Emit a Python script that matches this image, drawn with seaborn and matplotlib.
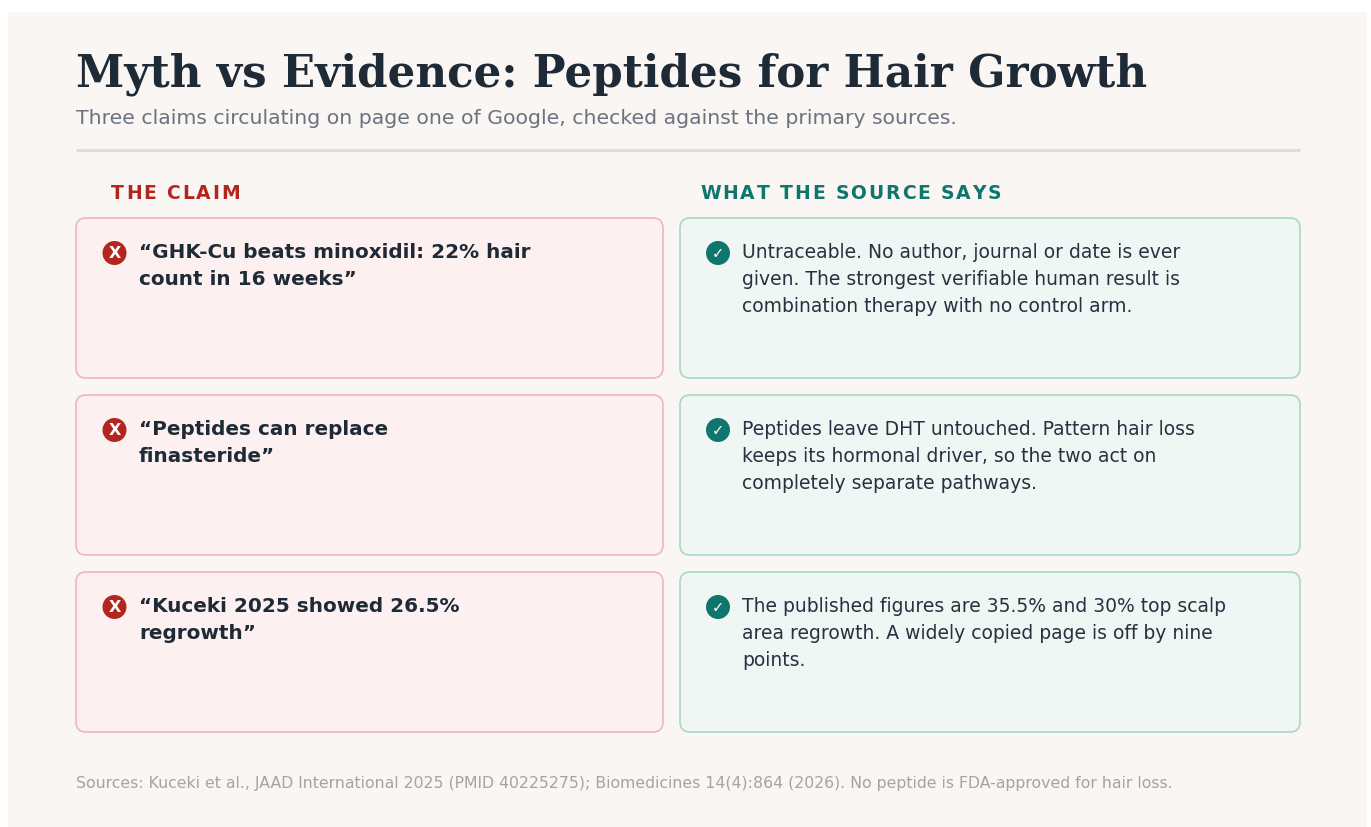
import matplotlib
matplotlib.use("Agg")
import matplotlib.pyplot as plt
from matplotlib.patches import FancyBboxPatch, Rectangle, Circle
import seaborn as sns

# ---------------- data ----------------
title = "Myth vs Evidence: Peptides for Hair Growth"
subtitle = "Three claims circulating on page one of Google, checked against the primary sources."
claim_header = "THE CLAIM"
source_header = "WHAT THE SOURCE SAYS"
claims = [
    ["\u201cGHK-Cu beats minoxidil: 22% hair", "count in 16 weeks\u201d"],
    ["\u201cPeptides can replace", "finasteride\u201d"],
    ["\u201cKuceki 2025 showed 26.5%", "regrowth\u201d"],
]
evidence = [
    ["Untraceable. No author, journal or date is ever",
     "given. The strongest verifiable human result is",
     "combination therapy with no control arm."],
    ["Peptides leave DHT untouched. Pattern hair loss",
     "keeps its hormonal driver, so the two act on",
     "completely separate pathways."],
    ["The published figures are 35.5% and 30% top scalp",
     "area regrowth. A widely copied page is off by nine",
     "points."],
]
footer = ("Sources: Kuceki et al., JAAD International 2025 (PMID 40225275); "
          "Biomedicines 14(4):864 (2026). No peptide is FDA-approved for hair loss.")

# ---------------- style ----------------
sns.set_theme(style="white")
plt.rcParams["font.family"] = ["DejaVu Sans"]

W, H = 1371, 827
DPI = 100
fig = plt.figure(figsize=(W / DPI, H / DPI), dpi=DPI, facecolor="white")
ax = fig.add_axes([0, 0, 1, 1])
ax.set_xlim(0, W)
ax.set_ylim(H, 0)
ax.axis("off")

BG = "#f9f6f3"
INK = "#1f2a37"
RED = "#b3261e"
TEAL = "#0f766e"

ax.add_patch(Rectangle((8, 12), 1359, 830, facecolor=BG, edgecolor="none", zorder=0))

ax.text(76, 87, title, fontsize=31.4, fontweight="bold", family="DejaVu Serif",
        color=INK, ha="left", va="baseline")
ax.text(76, 124, subtitle, fontsize=14.65, color="#6b7280", ha="left", va="baseline")
ax.plot([76, 1300], [149.5, 149.5], color="#e1dcd4", lw=2.2, solid_capstyle="butt")

renderer = fig.canvas.get_renderer()


def tracked(x, y, s, spacing, **kw):
    for ch in s:
        t = ax.text(x, y, ch, ha="left", va="baseline", **kw)
        if ch == " ":
            a = ax.text(0, 0, "AA", **kw)
            b = ax.text(0, 0, "A A", **kw)
            w = b.get_window_extent(renderer).width - a.get_window_extent(renderer).width
            a.remove(); b.remove()
        else:
            w = t.get_window_extent(renderer).width
        x += w + spacing


tracked(111, 199, claim_header, 1.9, fontsize=13.5, fontweight="bold", color=RED)
tracked(700, 199, source_header, 1.9, fontsize=13.5, fontweight="bold", color=TEAL)

card_tops = [218, 395, 572]
card_h = 160
left_x, left_w = 76, 587
right_x, right_w = 680, 620

for i, top in enumerate(card_tops):
    ax.add_patch(FancyBboxPatch((left_x, top), left_w, card_h,
                                boxstyle="round,pad=0,rounding_size=10",
                                facecolor="#fcf1f0", edgecolor="#ebb8b7", lw=1.2, zorder=1))
    ax.add_patch(FancyBboxPatch((right_x, top), right_w, card_h,
                                boxstyle="round,pad=0,rounding_size=10",
                                facecolor="#eff6f3", edgecolor="#acd6ca", lw=1.2, zorder=1))
    cy = top + 35
    ax.add_patch(Circle((114.5, cy), 12, facecolor=RED, edgecolor="none", zorder=2))
    ax.text(114.5, cy + 0.5, "X", fontsize=11.5, fontweight="bold", color="white",
            ha="center", va="center", zorder=3)
    ax.add_patch(Circle((718, cy), 12, facecolor=TEAL, edgecolor="none", zorder=2))
    ax.text(718, cy + 0.5, "\u2713", fontsize=10.5, color="white",
            ha="center", va="center", zorder=3)
    for j, line in enumerate(claims[i]):
        ax.text(139, top + 40 + 27 * j, line, fontsize=14.4, fontweight="bold",
                color=INK, ha="left", va="baseline", zorder=3)
    for j, line in enumerate(evidence[i]):
        ax.text(742, top + 40 + 27 * j, line, fontsize=13.5, color="#263240",
                ha="left", va="baseline", zorder=3)

ax.text(76, 788, footer, fontsize=11.3, color="#a3a3a8", ha="left", va="baseline")

fig.savefig("out.png", dpi=DPI, facecolor="white")
